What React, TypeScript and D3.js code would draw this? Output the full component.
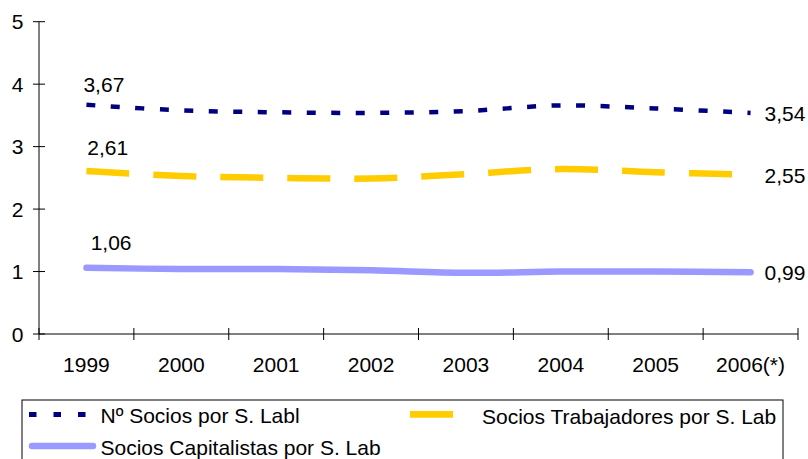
import React from "react";
import * as d3 from "d3";

const categories = ["1999", "2000", "2001", "2002", "2003", "2004", "2005", "2006(*)"];
const sociosTotal = [3.67, 3.58, 3.55, 3.54, 3.57, 3.66, 3.61, 3.54];
const sociosTrabajadores = [2.61, 2.53, 2.5, 2.49, 2.56, 2.64, 2.59, 2.55];
const sociosCapitalistas = [1.06, 1.04, 1.04, 1.02, 0.98, 1.0, 1.0, 0.99];
const yTicks = [0, 1, 2, 3, 4, 5];
const seriesNames = ["Nº Socios por S. Labl", "Socios Trabajadores por S. Lab", "Socios Capitalistas por S. Lab"];

const W = 808;
const H = 459;
const FONT = "'Liberation Sans', Arial, sans-serif";
const FS = 21;

const fmt = (v: number) => v.toFixed(2).replace(".", ",");

export default function App() {
  const x = d3.scaleBand<string>().domain(categories).range([39, 798]).padding(0);
  const y = d3.scaleLinear().domain([0, 5]).range([334, 21.7]);
  const cx = (c: string) => (x(c) as number) + x.bandwidth() / 2;

  const line = d3
    .line<number>()
    .x((_, i) => cx(categories[i]))
    .y((d) => y(d))
    .curve(d3.curveCardinal.tension(0));

  const series = [
    { name: seriesNames[0], data: sociosTotal, color: "#000080", width: 4.5, dash: "9,15.5", cap: "butt", dy: -12.4, dx: -3 },
    { name: seriesNames[1], data: sociosTrabajadores, color: "#FFCC00", width: 6.5, dash: "43,24", cap: "butt", dy: -16, dx: 0.8 },
    { name: seriesNames[2], data: sociosCapitalistas, color: "#9999FF", width: 6.5, dash: null, cap: "round", dy: -17.6, dx: 4.2 },
  ];

  const boundaries = d3.range(categories.length + 1).map((i) => x.range()[0] + i * x.step());
  const last = categories[categories.length - 1];
  const first = categories[0];

  return (
    <svg width={W} height={H} style={{ position: "absolute", left: 0, top: 0, background: "#fff" }} fontFamily={FONT}>
      {/* y axis */}
      <line x1={39} x2={39} y1={y(5)} y2={y(0)} stroke="#000" strokeWidth={1} />
      {yTicks.map((t) => (
        <g key={t}>
          <line x1={33} x2={45} y1={y(t)} y2={y(t)} stroke="#000" strokeWidth={1} />
          <text x={23.5} y={y(t) + 7.5} textAnchor="end" fontSize={FS} fill="#000">
            {t}
          </text>
        </g>
      ))}
      {/* x axis */}
      <line x1={39} x2={798} y1={y(0)} y2={y(0)} stroke="#000" strokeWidth={1} />
      {boundaries.map((b, i) => (
        <line key={i} x1={b} x2={b} y1={y(0) - 6} y2={y(0) + 6} stroke="#000" strokeWidth={1} />
      ))}
      {categories.map((c) => (
        <text key={c} x={cx(c)} y={372} textAnchor="middle" fontSize={FS} fill="#000">
          {c}
        </text>
      ))}
      {/* lines */}
      {series.map((s) => (
        <path
          key={s.name}
          d={line(s.data) as string}
          fill="none"
          stroke={s.color}
          strokeWidth={s.width}
          strokeDasharray={s.dash ?? undefined}
          strokeLinecap={s.cap as any}
        />
      ))}
      {/* data labels */}
      {series.map((s) => (
        <g key={s.name + "lbl"}>
          <text x={cx(first) + s.dx} y={y(s.data[0]) + s.dy} fontSize={FS} fill="#000">
            {fmt(s.data[0])}
          </text>
          <text x={cx(last) + 14} y={y(s.data[s.data.length - 1]) + 8} fontSize={FS} fill="#000">
            {fmt(s.data[s.data.length - 1])}
          </text>
        </g>
      ))}
      {/* legend */}
      <rect x={22} y={400} width={761} height={70} fill="none" stroke="#000" strokeWidth={1} />
      <line x1={29} x2={87} y1={414.5} y2={414.5} stroke="#000080" strokeWidth={5} strokeDasharray="7.5,17" />
      <text x={100.5} y={423} fontSize={FS} fill="#000">
        {seriesNames[0]}
      </text>
      <line x1={410} x2={453} y1={414.3} y2={414.3} stroke="#FFCC00" strokeWidth={6.7} />
      <text x={482} y={424} fontSize={FS} fill="#000">
        {seriesNames[1]}
      </text>
      <line x1={32} x2={93} y1={446} y2={446} stroke="#9999FF" strokeWidth={6.5} strokeLinecap="round" />
      <text x={100.5} y={455} fontSize={FS} fill="#000">
        {seriesNames[2]}
      </text>
    </svg>
  );
}
